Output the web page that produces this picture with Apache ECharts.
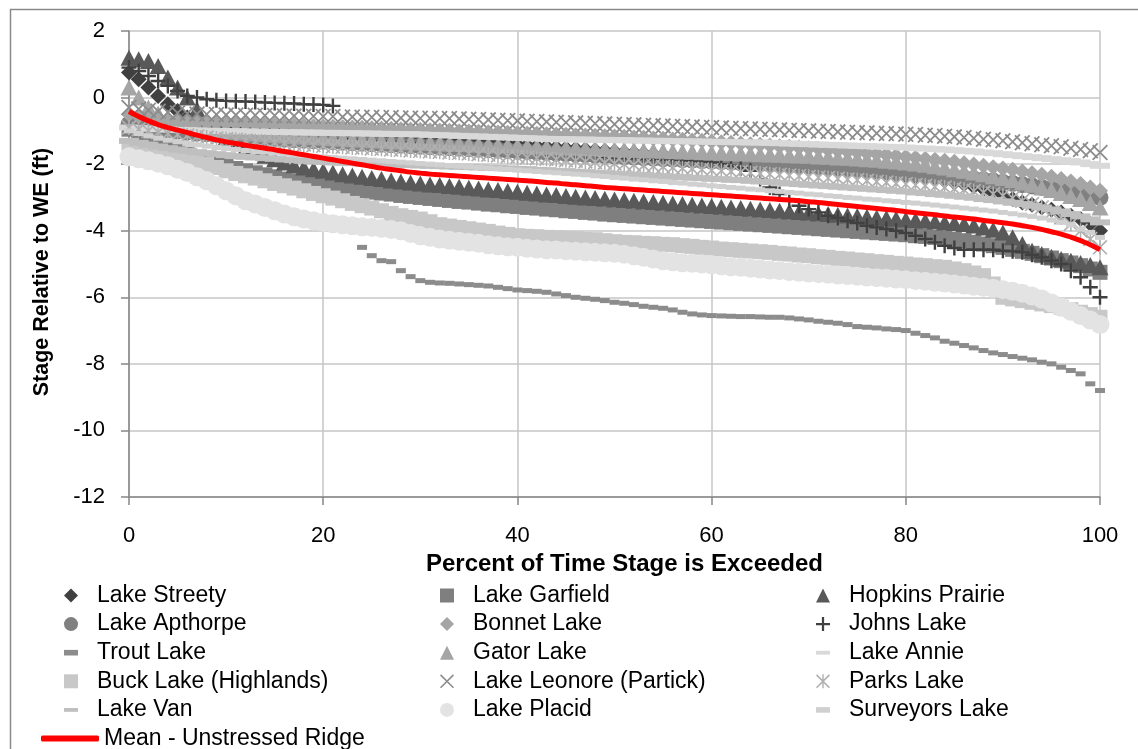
<!DOCTYPE html>
<html><head><meta charset="utf-8">
<script src="https://cdn.jsdelivr.net/npm/echarts/dist/echarts.min.js"></script>
<style>html,body{margin:0;padding:0;background:#fff;}#c{width:1138px;height:749px;}</style>
</head><body><div id="c"></div>
<script>
const pct = [0,1,2,3,4,5,6,7,8,9,10,11,12,13,14,15,16,17,18,19,20,21,22,23,24,25,26,27,28,29,30,31,32,33,34,35,36,37,38,39,40,41,42,43,44,45,46,47,48,49,50,51,52,53,54,55,56,57,58,59,60,61,62,63,64,65,66,67,68,69,70,71,72,73,74,75,76,77,78,79,80,81,82,83,84,85,86,87,88,89,90,91,92,93,94,95,96,97,98,99,100];
const yTicks = [-12,-10,-8,-6,-4,-2,0,2];

const lakeStreety = [0.75,0.55,0.3,0.05,-0.2,-0.4,-0.6,-0.72,-0.8,-0.85,-0.88,-0.9,-0.93,-0.95,-0.97,-0.99,-1.0,-1.02,-1.03,-1.05,-1.06,-1.08,-1.09,-1.11,-1.12,-1.14,-1.15,-1.17,-1.18,-1.2,-1.22,-1.24,-1.26,-1.28,-1.3,-1.32,-1.34,-1.36,-1.38,-1.4,-1.42,-1.44,-1.46,-1.48,-1.5,-1.52,-1.54,-1.56,-1.58,-1.6,-1.62,-1.64,-1.66,-1.68,-1.7,-1.72,-1.74,-1.76,-1.78,-1.8,-1.82,-1.84,-1.86,-1.88,-1.9,-1.92,-1.95,-1.97,-2.0,-2.02,-2.05,-2.07,-2.1,-2.12,-2.15,-2.17,-2.2,-2.23,-2.27,-2.3,-2.34,-2.38,-2.42,-2.46,-2.5,-2.55,-2.6,-2.67,-2.75,-2.85,-2.95,-3.05,-3.15,-3.22,-3.3,-3.37,-3.45,-3.55,-3.65,-3.8,-4.0];
const lakeGarfield = [-0.95,-1.1,-1.25,-1.38,-1.5,-1.6,-1.7,-1.8,-1.9,-1.98,-2.05,-2.13,-2.2,-2.26,-2.32,-2.38,-2.45,-2.5,-2.55,-2.6,-2.65,-2.69,-2.73,-2.77,-2.8,-2.84,-2.87,-2.9,-2.94,-2.97,-3.0,-3.03,-3.06,-3.09,-3.12,-3.14,-3.17,-3.2,-3.22,-3.25,-3.27,-3.3,-3.32,-3.35,-3.37,-3.4,-3.42,-3.45,-3.47,-3.5,-3.52,-3.54,-3.56,-3.58,-3.6,-3.62,-3.64,-3.66,-3.68,-3.7,-3.72,-3.74,-3.76,-3.78,-3.8,-3.82,-3.84,-3.86,-3.88,-3.9,-3.92,-3.94,-3.96,-3.98,-4.0,-4.02,-4.04,-4.06,-4.08,-4.1,-4.12,-4.15,-4.17,-4.2,-4.22,-4.26,-4.3,-4.35,-4.4,-4.45,-4.5,-4.56,-4.62,-4.68,-4.75,-4.82,-4.9,-4.97,-5.05,-5.15,-5.25];
const hopkinsPrairie = [1.2,1.15,1.1,0.95,0.6,0.3,0.0,-0.35,-0.7,-1.0,-1.2,-1.35,-1.5,-1.63,-1.75,-1.85,-1.95,-2.03,-2.1,-2.15,-2.2,-2.25,-2.3,-2.34,-2.38,-2.42,-2.45,-2.49,-2.52,-2.55,-2.58,-2.61,-2.63,-2.66,-2.68,-2.71,-2.73,-2.76,-2.78,-2.81,-2.83,-2.86,-2.88,-2.91,-2.93,-2.96,-2.98,-3.0,-3.02,-3.04,-3.06,-3.08,-3.1,-3.12,-3.14,-3.16,-3.18,-3.2,-3.22,-3.24,-3.26,-3.28,-3.3,-3.32,-3.34,-3.36,-3.38,-3.4,-3.42,-3.44,-3.46,-3.48,-3.5,-3.52,-3.54,-3.56,-3.58,-3.6,-3.62,-3.64,-3.66,-3.68,-3.7,-3.72,-3.75,-3.77,-3.8,-3.84,-3.9,-3.97,-4.05,-4.2,-4.4,-4.6,-4.7,-4.78,-4.85,-4.9,-4.97,-5.03,-5.1];
const lakeApthorpe = [-0.8,-0.86,-0.9,-0.94,-0.98,-1.01,-1.04,-1.07,-1.09,-1.11,-1.13,-1.15,-1.17,-1.19,-1.21,-1.23,-1.25,-1.27,-1.28,-1.3,-1.31,-1.33,-1.34,-1.36,-1.37,-1.39,-1.4,-1.42,-1.43,-1.45,-1.46,-1.48,-1.49,-1.51,-1.52,-1.54,-1.55,-1.57,-1.58,-1.6,-1.61,-1.63,-1.64,-1.66,-1.67,-1.69,-1.7,-1.72,-1.73,-1.75,-1.76,-1.78,-1.79,-1.81,-1.82,-1.84,-1.85,-1.87,-1.88,-1.9,-1.91,-1.93,-1.94,-1.96,-1.97,-1.99,-2.0,-2.02,-2.03,-2.05,-2.06,-2.08,-2.1,-2.12,-2.14,-2.16,-2.18,-2.2,-2.22,-2.24,-2.26,-2.29,-2.31,-2.34,-2.36,-2.39,-2.42,-2.45,-2.48,-2.51,-2.55,-2.58,-2.62,-2.66,-2.7,-2.75,-2.8,-2.85,-2.9,-2.95,-3.0];
const bonnetLake = [-0.5,-0.56,-0.6,-0.64,-0.67,-0.7,-0.72,-0.73,-0.75,-0.76,-0.77,-0.78,-0.79,-0.8,-0.81,-0.82,-0.83,-0.84,-0.85,-0.86,-0.87,-0.88,-0.89,-0.9,-0.91,-0.92,-0.93,-0.94,-0.95,-0.96,-0.97,-0.98,-0.99,-1.0,-1.01,-1.02,-1.03,-1.04,-1.05,-1.06,-1.07,-1.08,-1.09,-1.1,-1.11,-1.12,-1.13,-1.14,-1.15,-1.16,-1.17,-1.18,-1.2,-1.21,-1.23,-1.24,-1.26,-1.27,-1.29,-1.3,-1.32,-1.34,-1.36,-1.38,-1.4,-1.42,-1.44,-1.46,-1.48,-1.5,-1.52,-1.54,-1.57,-1.59,-1.62,-1.64,-1.67,-1.69,-1.72,-1.75,-1.78,-1.81,-1.84,-1.87,-1.9,-1.93,-1.97,-2.01,-2.05,-2.09,-2.13,-2.17,-2.22,-2.27,-2.32,-2.38,-2.45,-2.52,-2.6,-2.7,-2.8];
const johnsLake = [0.9,0.8,0.65,0.5,0.35,0.2,0.05,0.0,-0.05,-0.08,-0.1,-0.11,-0.12,-0.13,-0.15,-0.16,-0.17,-0.18,-0.2,-0.21,-0.22,-0.25,-1.25,-1.27,-1.3,-1.31,-1.32,-1.33,-1.35,-1.36,-1.38,-1.42,-1.45,-1.48,-1.5,-1.51,-1.52,-1.53,-1.54,-1.55,-1.56,-1.57,-1.58,-1.59,-1.6,-1.61,-1.62,-1.7,-1.75,-1.78,-1.8,-1.82,-1.83,-1.85,-1.86,-1.87,-1.88,-1.89,-1.9,-1.92,-1.95,-2.0,-2.05,-2.12,-2.2,-2.45,-2.7,-2.9,-3.1,-3.25,-3.35,-3.45,-3.55,-3.62,-3.7,-3.77,-3.85,-3.9,-3.95,-4.0,-4.07,-4.15,-4.25,-4.35,-4.45,-4.52,-4.57,-4.57,-4.57,-4.57,-4.6,-4.62,-4.65,-4.72,-4.8,-4.9,-5.0,-5.2,-5.4,-5.7,-6.0];
const troutLake = [null,null,null,null,null,null,null,null,null,null,null,null,null,null,null,null,null,null,null,null,null,null,null,null,-4.5,-4.75,-4.9,-4.93,-5.2,-5.38,-5.5,-5.55,-5.57,-5.58,-5.6,-5.62,-5.64,-5.66,-5.7,-5.74,-5.78,-5.8,-5.82,-5.85,-5.9,-5.95,-6.0,-6.03,-6.06,-6.1,-6.15,-6.18,-6.22,-6.27,-6.3,-6.33,-6.38,-6.45,-6.5,-6.53,-6.55,-6.56,-6.57,-6.58,-6.58,-6.59,-6.6,-6.6,-6.62,-6.65,-6.68,-6.72,-6.75,-6.78,-6.82,-6.88,-6.9,-6.92,-6.95,-6.97,-7.0,-7.08,-7.15,-7.22,-7.32,-7.38,-7.45,-7.52,-7.6,-7.67,-7.72,-7.78,-7.83,-7.88,-7.95,-8.0,-8.1,-8.2,-8.3,-8.6,-8.8];
const gatorLake = [0.3,0.0,-0.3,-0.48,-0.6,-0.7,-0.8,-0.86,-0.9,-0.95,-1.0,-1.03,-1.05,-1.08,-1.1,-1.12,-1.14,-1.16,-1.17,-1.19,-1.2,-1.22,-1.23,-1.25,-1.26,-1.28,-1.29,-1.31,-1.32,-1.34,-1.35,-1.36,-1.37,-1.38,-1.39,-1.4,-1.41,-1.42,-1.43,-1.44,-1.45,-1.46,-1.47,-1.48,-1.49,-1.5,-1.51,-1.52,-1.53,-1.54,-1.55,-1.56,-1.57,-1.58,-1.59,-1.6,-1.61,-1.62,-1.63,-1.64,-1.65,-1.66,-1.67,-1.68,-1.69,-1.7,-1.71,-1.72,-1.73,-1.74,-1.75,-1.77,-1.78,-1.8,-1.81,-1.83,-1.85,-1.87,-1.9,-1.92,-1.95,-1.98,-2.02,-2.06,-2.1,-2.15,-2.2,-2.25,-2.3,-2.36,-2.42,-2.48,-2.55,-2.62,-2.7,-2.78,-2.87,-2.96,-3.05,-3.17,-3.3];
const lakeAnnie = [-0.9,-0.92,-0.93,-0.95,-0.96,-0.97,-0.98,-0.99,-1.0,-1.0,-1.01,-1.01,-1.02,-1.02,-1.03,-1.03,-1.04,-1.04,-1.05,-1.05,-1.06,-1.06,-1.07,-1.07,-1.08,-1.08,-1.09,-1.09,-1.1,-1.1,-1.11,-1.12,-1.13,-1.14,-1.15,-1.16,-1.17,-1.18,-1.19,-1.2,-1.21,-1.22,-1.23,-1.24,-1.25,-1.25,-1.26,-1.26,-1.27,-1.27,-1.28,-1.28,-1.29,-1.29,-1.3,-1.3,-1.31,-1.31,-1.32,-1.32,-1.33,-1.33,-1.34,-1.34,-1.35,-1.35,-1.36,-1.37,-1.38,-1.39,-1.4,-1.41,-1.42,-1.43,-1.44,-1.45,-1.46,-1.47,-1.48,-1.49,-1.5,-1.52,-1.53,-1.55,-1.56,-1.58,-1.6,-1.62,-1.65,-1.67,-1.7,-1.73,-1.76,-1.79,-1.82,-1.85,-1.88,-1.91,-1.95,-2.0,-2.05];
const buckLake = [-1.45,-1.5,-1.55,-1.62,-1.7,-1.78,-1.85,-1.92,-2.0,-2.1,-2.2,-2.28,-2.35,-2.42,-2.5,-2.58,-2.65,-2.72,-2.8,-2.88,-2.95,-3.02,-3.1,-3.18,-3.25,-3.32,-3.4,-3.48,-3.55,-3.6,-3.65,-3.73,-3.82,-3.86,-3.9,-3.94,-3.98,-4.02,-4.07,-4.11,-4.15,-4.17,-4.18,-4.2,-4.21,-4.23,-4.24,-4.26,-4.27,-4.3,-4.33,-4.35,-4.36,-4.38,-4.39,-4.41,-4.42,-4.45,-4.47,-4.5,-4.52,-4.55,-4.57,-4.59,-4.61,-4.63,-4.65,-4.68,-4.7,-4.73,-4.75,-4.78,-4.8,-4.83,-4.85,-4.88,-4.9,-4.93,-4.95,-4.98,-5.0,-5.03,-5.05,-5.08,-5.1,-5.15,-5.2,-5.27,-5.35,-5.6,-6.0,-6.05,-6.1,-6.15,-6.2,-6.25,-6.3,-6.37,-6.45,-6.52,-6.6];
const lakeLeonore = [-0.3,-0.34,-0.38,-0.41,-0.44,-0.46,-0.48,-0.49,-0.5,-0.51,-0.52,-0.52,-0.53,-0.53,-0.54,-0.54,-0.55,-0.55,-0.56,-0.56,-0.57,-0.57,-0.58,-0.58,-0.59,-0.59,-0.6,-0.6,-0.61,-0.61,-0.62,-0.62,-0.63,-0.63,-0.64,-0.65,-0.66,-0.67,-0.68,-0.69,-0.7,-0.71,-0.72,-0.73,-0.74,-0.75,-0.76,-0.77,-0.78,-0.79,-0.8,-0.81,-0.82,-0.83,-0.84,-0.85,-0.86,-0.87,-0.88,-0.89,-0.9,-0.91,-0.92,-0.93,-0.94,-0.95,-0.96,-0.97,-0.98,-0.99,-1.0,-1.01,-1.02,-1.03,-1.04,-1.05,-1.06,-1.07,-1.08,-1.09,-1.1,-1.11,-1.13,-1.14,-1.16,-1.18,-1.2,-1.22,-1.25,-1.27,-1.3,-1.33,-1.36,-1.39,-1.42,-1.45,-1.48,-1.52,-1.56,-1.6,-1.65];
const parksLake = [-0.9,-0.95,-1.0,-1.04,-1.08,-1.11,-1.14,-1.17,-1.2,-1.23,-1.25,-1.27,-1.29,-1.31,-1.33,-1.35,-1.37,-1.39,-1.41,-1.43,-1.45,-1.47,-1.48,-1.5,-1.51,-1.53,-1.54,-1.56,-1.57,-1.59,-1.6,-1.62,-1.63,-1.65,-1.66,-1.68,-1.7,-1.72,-1.74,-1.76,-1.78,-1.8,-1.82,-1.84,-1.86,-1.88,-1.9,-1.92,-1.94,-1.96,-1.98,-2.0,-2.02,-2.04,-2.06,-2.08,-2.1,-2.12,-2.14,-2.16,-2.18,-2.2,-2.22,-2.24,-2.26,-2.28,-2.3,-2.32,-2.34,-2.36,-2.38,-2.4,-2.42,-2.44,-2.46,-2.48,-2.5,-2.53,-2.55,-2.58,-2.6,-2.63,-2.65,-2.68,-2.7,-2.74,-2.77,-2.81,-2.85,-2.9,-2.95,-3.02,-3.1,-3.2,-3.3,-3.45,-3.6,-3.8,-4.0,-4.25,-4.5];
const lakeVan = [-1.3,-1.36,-1.42,-1.47,-1.52,-1.56,-1.6,-1.64,-1.67,-1.7,-1.73,-1.76,-1.78,-1.8,-1.82,-1.84,-1.86,-1.88,-1.9,-1.92,-1.93,-1.95,-1.96,-1.97,-1.98,-1.99,-2.0,-2.01,-2.02,-2.03,-2.04,-2.05,-2.06,-2.07,-2.08,-2.09,-2.1,-2.11,-2.12,-2.13,-2.14,-2.15,-2.17,-2.18,-2.2,-2.21,-2.23,-2.24,-2.26,-2.27,-2.29,-2.3,-2.32,-2.33,-2.35,-2.36,-2.38,-2.39,-2.41,-2.42,-2.44,-2.45,-2.47,-2.48,-2.5,-2.52,-2.54,-2.56,-2.58,-2.6,-2.62,-2.64,-2.66,-2.68,-2.7,-2.72,-2.74,-2.76,-2.78,-2.8,-2.82,-2.85,-2.87,-2.9,-2.92,-2.95,-2.98,-3.01,-3.05,-3.08,-3.12,-3.16,-3.2,-3.25,-3.3,-3.36,-3.42,-3.5,-3.57,-3.66,-3.75];
const lakePlacid = [-1.78,-1.84,-1.9,-1.97,-2.05,-2.15,-2.25,-2.38,-2.5,-2.65,-2.8,-2.95,-3.1,-3.2,-3.3,-3.4,-3.5,-3.58,-3.65,-3.7,-3.75,-3.79,-3.82,-3.85,-3.88,-3.9,-3.93,-3.96,-4.0,-4.08,-4.15,-4.2,-4.25,-4.29,-4.32,-4.35,-4.38,-4.42,-4.45,-4.48,-4.5,-4.53,-4.55,-4.57,-4.58,-4.6,-4.62,-4.63,-4.65,-4.66,-4.68,-4.71,-4.75,-4.8,-4.85,-4.9,-4.93,-4.96,-4.98,-5.0,-5.02,-5.05,-5.08,-5.1,-5.13,-5.15,-5.18,-5.2,-5.23,-5.25,-5.27,-5.29,-5.31,-5.33,-5.35,-5.37,-5.39,-5.41,-5.43,-5.45,-5.47,-5.5,-5.52,-5.55,-5.57,-5.6,-5.63,-5.67,-5.7,-5.73,-5.77,-5.82,-5.88,-5.96,-6.05,-6.17,-6.3,-6.42,-6.55,-6.68,-6.82];
const surveyorsLake = [-1.0,-1.08,-1.15,-1.22,-1.28,-1.33,-1.38,-1.42,-1.46,-1.5,-1.53,-1.56,-1.59,-1.62,-1.64,-1.67,-1.69,-1.72,-1.74,-1.76,-1.78,-1.8,-1.82,-1.84,-1.86,-1.88,-1.9,-1.92,-1.94,-1.96,-1.98,-2.0,-2.02,-2.04,-2.06,-2.08,-2.1,-2.12,-2.14,-2.16,-2.18,-2.2,-2.22,-2.24,-2.26,-2.28,-2.3,-2.32,-2.35,-2.37,-2.4,-2.42,-2.45,-2.47,-2.5,-2.52,-2.55,-2.57,-2.6,-2.62,-2.65,-2.67,-2.7,-2.72,-2.75,-2.77,-2.8,-2.82,-2.85,-2.87,-2.9,-2.92,-2.95,-2.97,-3.0,-3.02,-3.05,-3.07,-3.1,-3.12,-3.15,-3.17,-3.2,-3.23,-3.26,-3.29,-3.32,-3.35,-3.38,-3.41,-3.45,-3.49,-3.53,-3.57,-3.62,-3.68,-3.75,-3.82,-3.95,-4.05,-4.2];
const meanUnstressed = [-0.42,-0.57,-0.70,-0.81,-0.90,-0.98,-1.05,-1.13,-1.20,-1.27,-1.33,-1.38,-1.43,-1.48,-1.52,-1.57,-1.62,-1.67,-1.72,-1.77,-1.82,-1.87,-1.92,-1.97,-2.02,-2.07,-2.12,-2.16,-2.20,-2.24,-2.27,-2.30,-2.32,-2.34,-2.36,-2.38,-2.40,-2.42,-2.44,-2.46,-2.48,-2.50,-2.52,-2.55,-2.57,-2.60,-2.62,-2.65,-2.67,-2.70,-2.72,-2.74,-2.76,-2.78,-2.80,-2.82,-2.84,-2.86,-2.88,-2.90,-2.92,-2.94,-2.96,-2.98,-3.00,-3.02,-3.04,-3.06,-3.08,-3.10,-3.13,-3.15,-3.18,-3.21,-3.24,-3.27,-3.30,-3.33,-3.36,-3.39,-3.43,-3.46,-3.49,-3.52,-3.56,-3.59,-3.62,-3.65,-3.69,-3.72,-3.76,-3.80,-3.85,-3.90,-3.96,-4.03,-4.10,-4.19,-4.30,-4.42,-4.57];

const FONT = 'Liberation Sans, Arial, sans-serif';
const PLUS = 'path://M0,4.2H10V5.8H0ZM4.2,0H5.8V10H4.2Z';
const XS = 'M0,0.8L0.8,0L10,9.2L9.2,10ZM9.2,0L10,0.8L0.8,10L0,9.2Z';
const XMARK = 'path://' + XS;
const STAR = 'path://' + XS + 'M4.5,0H5.5V10H4.5Z';
const DASH_L = 'path://M0,0H22V6H0Z';
const DASH_S = 'path://M0,0H10V4H0Z';

const defs = [
  {name:'Lake Streety', d:lakeStreety, sym:'diamond', size:[16,16], color:'#404040'},
  {name:'Lake Garfield', d:lakeGarfield, sym:'rect', size:[15,15], color:'#7f7f7f'},
  {name:'Hopkins Prairie', d:hopkinsPrairie, sym:'triangle', size:[17,16], color:'#595959'},
  {name:'Lake Apthorpe', d:lakeApthorpe, sym:'circle', size:17, color:'#808080'},
  {name:'Bonnet Lake', d:bonnetLake, sym:'diamond', size:[16,16], color:'#a5a5a5'},
  {name:'Johns Lake', d:johnsLake, sym:PLUS, size:[15,15], color:'#404040'},
  {name:'Trout Lake', d:troutLake, sym:DASH_S, size:[10,5], color:'#8c8c8c', icon:DASH_S},
  {name:'Gator Lake', d:gatorLake, sym:'triangle', size:[17,16], color:'#a5a5a5'},
  {name:'Lake Annie', d:lakeAnnie, sym:DASH_L, size:[20,6], color:'#d9d9d9', icon:DASH_L},
  {name:'Buck Lake (Highlands)', d:buckLake, sym:'rect', size:[15,15], color:'#c8c8c8'},
  {name:'Lake Leonore (Partick)', d:lakeLeonore, sym:XMARK, size:[16,16], color:'#8c8c8c'},
  {name:'Parks Lake', d:parksLake, sym:STAR, size:[15,15], color:'#b0b0b0'},
  {name:'Lake Van', d:lakeVan, sym:DASH_L, size:[20,6], color:'#bfbfbf', icon:DASH_L},
  {name:'Lake Placid', d:lakePlacid, sym:'circle', size:19, color:'#e3e3e3'},
  {name:'Surveyors Lake', d:surveyorsLake, sym:DASH_S, size:[10,5], color:'#d0d0d0', icon:DASH_S}
];

function toPts(arr){
  const out = [];
  pct.forEach((p,i)=>{ if(arr[i] !== null && arr[i] !== undefined) out.push([p, arr[i]]); });
  return out;
}

const series = defs.map(s => ({
  type:'scatter', name:s.name, data:toPts(s.d), symbol:s.sym, symbolSize:s.size,
  itemStyle:{color:s.color, opacity:1}, silent:true, animation:false, large:false
}));
series.push({
  type:'line', name:'Mean - Unstressed Ridge', data:toPts(meanUnstressed), showSymbol:false, smooth:true,
  lineStyle:{color:'#ff0000', width:5}, itemStyle:{color:'#ff0000'}, silent:true, animation:false
});

function legItem(n){ const s = defs.find(d=>d.name===n); return s.icon ? {name:n, icon:s.icon} : {name:n}; }
const legBase = {orient:'vertical', itemWidth:14, itemHeight:14, itemGap:5.6, selectedMode:false,
  textStyle:{fontFamily:FONT, fontSize:23, lineHeight:23, color:'#000', padding:[0,0,0,14]}};
const col1 = ['Lake Streety','Lake Apthorpe','Trout Lake','Buck Lake (Highlands)','Lake Van'];
const col2 = ['Lake Garfield','Bonnet Lake','Gator Lake','Lake Leonore (Partick)','Lake Placid'];
const col3 = ['Hopkins Prairie','Johns Lake','Lake Annie','Parks Lake','Surveyors Lake'];

const chart = echarts.init(document.getElementById('c'), null, {renderer:'canvas'});
chart.setOption({
  animation:false,
  backgroundColor:'#fff',
  graphic:[{type:'rect', left:8, top:7, shape:{width:1200, height:800}, style:{fill:'none', stroke:'#8a8a8a', lineWidth:1.5}, silent:true}],
  grid:{left:129, right:38, top:31, bottom:252, containLabel:false},
  legend:[
    Object.assign({}, legBase, {left:59, top:579, data:col1.map(legItem)}),
    Object.assign({}, legBase, {left:435, top:579, data:col2.map(legItem)}),
    Object.assign({}, legBase, {left:811, top:579, data:col3.map(legItem)}),
    {orient:'vertical', left:36, top:722, itemWidth:58, itemHeight:6, selectedMode:false, icon:'roundRect',
     data:['Mean - Unstressed Ridge'], textStyle:{fontFamily:FONT, fontSize:23, lineHeight:23, color:'#000'}}
  ],
  xAxis:{type:'value', min:0, max:100, interval:20,
    name:'Percent of Time Stage is Exceeded', nameLocation:'middle', nameGap:55,
    nameTextStyle:{fontFamily:FONT, fontSize:24, fontWeight:'bold', color:'#000', padding:[0,0,0,20]},
    axisLine:{show:true, onZero:false, lineStyle:{color:'#868686', width:1.5}},
    axisTick:{show:true, length:8, lineStyle:{color:'#868686', width:1.5}},
    axisLabel:{fontFamily:FONT, fontSize:22, color:'#000', margin:28},
    splitLine:{show:true, lineStyle:{color:'#c6c6c6', width:1.5}}},
  yAxis:{type:'value', min:-12, max:2, interval:2,
    name:'Stage Relative to WE (ft)', nameLocation:'middle', nameGap:76,
    nameTextStyle:{fontFamily:FONT, fontSize:21.5, fontWeight:'bold', color:'#000', padding:[0,16,0,0]},
    axisLine:{show:true, onZero:false, lineStyle:{color:'#868686', width:1.5}},
    axisTick:{show:true, length:8, lineStyle:{color:'#868686', width:1.5}},
    axisLabel:{fontFamily:FONT, fontSize:22, color:'#000', margin:24, formatter: v => (yTicks.indexOf(v) >= 0 ? String(v) : '')},
    splitLine:{show:true, lineStyle:{color:'#c6c6c6', width:1.5}}},
  series:series
});
</script>
</body></html>
